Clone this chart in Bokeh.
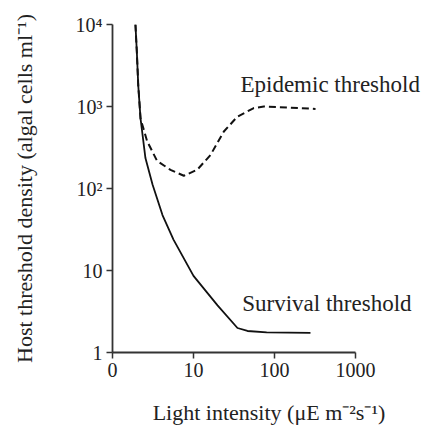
from bokeh.plotting import figure
from bokeh.models import FixedTicker
from bokeh.core.properties import value
from bokeh.embed import file_html
from bokeh.resources import INLINE

# Data
survival_x = [1.92, 2.0, 2.08, 2.22, 2.55, 3.12, 4.14, 5.66, 10, 19.8, 34.9, 46.4, 80, 278]
survival_y = [10000, 4500, 1800, 710, 235, 112, 47.5, 23.8, 8.6, 3.76, 1.99, 1.83, 1.76, 1.74]

epidemic_x = [1.92, 2.0, 2.08, 2.22, 2.68, 3.56, 5.2, 7.6, 11.1, 16.2, 23.7, 34.7, 55.5, 74, 321]
epidemic_y = [10000, 4500, 1800, 710, 376, 216, 169, 143, 169, 256, 495, 750, 958, 1000, 935]

x_ticks = [1, 10, 100, 1000]
x_tick_labels = ["0", "10", "100", "1000"]
y_ticks = [1, 10, 100, 1000, 10000]
y_tick_labels = ["1", "10", "10²", "10³", "10⁴"]

label_names = ["Epidemic threshold", "Survival threshold"]
label_x = [38, 40]
label_y = [1860, 3.97]

FONT = "Liberation Serif"
INK = "#222222"

p = figure(width=425, height=427, x_axis_type="log", y_axis_type="log",
           x_range=(1, 10 ** (313 / 81)), y_range=(1, 10000),
           output_backend="svg", toolbar_location=None,
           min_border_left=112, min_border_right=0, min_border_top=24,
           min_border_bottom=69, background_fill_color="white",
           border_fill_color="white", outline_line_color=None)
p.grid.visible = False

p.line(survival_x, survival_y, line_color="#111111", line_width=1.8)
p.line(epidemic_x, epidemic_y, line_color="#111111", line_width=2,
       line_dash="7 4")

p.text(x=label_x, y=label_y, text=label_names, text_font=value(FONT),
       text_font_size="23px", text_color=INK, text_baseline="middle",
       text_align="left")

xa = p.xaxis[0]
xa.bounds = (1, 1000)
xa.ticker = FixedTicker(ticks=x_ticks)
xa.major_label_overrides = {t: s for t, s in zip(x_ticks, x_tick_labels)}
xa.axis_label = "Light intensity (μE m⁻²s⁻¹)"

ya = p.yaxis[0]
ya.ticker = FixedTicker(ticks=y_ticks)
ya.major_label_overrides = {t: s for t, s in zip(y_ticks, y_tick_labels)}
ya.axis_label = "Host threshold density (algal cells ml⁻¹)"
ya.axis_label_standoff = 36
xa.axis_label_standoff = 20

for ax in (xa, ya):
    ax.minor_tick_line_color = None
    ax.major_tick_in = 0
    ax.major_tick_out = 6
    ax.axis_line_width = 1.8
    ax.axis_line_color = "#333333"
    ax.major_tick_line_color = "#333333"
    ax.major_tick_line_width = 1.5
    ax.major_label_text_font = FONT
    ax.major_label_text_font_size = "20px"
    ax.major_label_text_color = INK
    ax.major_label_standoff = 4
    ax.axis_label_text_font = FONT
    ax.axis_label_text_font_size = "22px"
    ax.axis_label_text_font_style = "normal"
    ax.axis_label_text_color = INK

open("out.html", "w").write(file_html(p, INLINE))
